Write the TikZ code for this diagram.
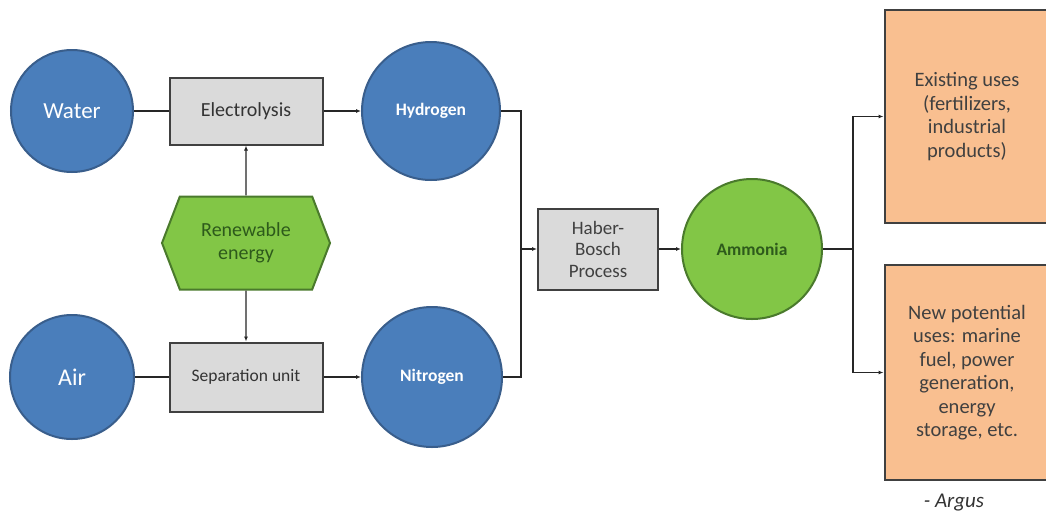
\documentclass[tikz,border=0pt]{standalone}
\usepackage{fontspec}
\setmainfont{Carlito}
\usetikzlibrary{positioning,shapes.symbols,arrows.meta}
\definecolor{blobblue}{HTML}{4A7EBB}
\definecolor{blobline}{HTML}{395E8C}
\definecolor{boxgray}{HTML}{DADADA}
\definecolor{darkline}{HTML}{404040}
\definecolor{leafgreen}{HTML}{82C646}
\definecolor{leafline}{HTML}{4A7A2C}
\definecolor{leaftext}{HTML}{2D5A1B}
\definecolor{peach}{HTML}{F9BF90}

\begin{document}
\begin{tikzpicture}[x=1pt,y=-1pt]
        \tikzstyle{blob} = [circle,draw=blobline,fill=blobblue,line width=2pt,text=white,inner sep=0pt]
        \tikzstyle{unit} = [rectangle,draw=darkline,fill=boxgray,line width=2pt,text=black!80,align=center]
        \tikzstyle{use} = [rectangle,draw=darkline,fill=peach,line width=2pt,text=black!75,align=center,
                           minimum width=165pt,font=\fontsize{20.5}{23.5}\selectfont]
        \tikzstyle{link} = [draw=black!85,line width=1.3pt]
        \tikzstyle{arr} = [link,-{Latex[length=5pt,width=4pt]}]
        \path[use as bounding box,fill=white] (0,0) rectangle (1046,517);
        % inputs
        \node [blob, minimum size=122pt, font=\fontsize{23}{26}\selectfont] (water) at (72,111) {Water};
        \node [blob, minimum size=124pt, font=\fontsize{24}{26}\selectfont] (air) at (72,377) {Air};
        \node [unit, minimum width=153pt, minimum height=67pt, font=\fontsize{20}{22}\selectfont] (elec) at (246,111) {Electrolysis};
        \node [unit, minimum width=153pt, minimum height=69pt, font=\fontsize{17.5}{20}\selectfont] (sep) at (246,377) {Separation unit};
        \node [shape=signal, signal to=east and west, signal pointer angle=138, draw=leafline, fill=leafgreen,
               line width=2pt, text=leaftext, align=center, minimum width=168pt, minimum height=93pt,
               font=\fontsize{20}{22.5}\selectfont] (renew) at (246,243) {Renewable\\energy};
        \node [blob, minimum size=138pt, font=\fontsize{17.5}{20}\selectfont\bfseries] (hyd) at (431,111) {Hydrogen};
        \node [blob, minimum size=140pt, font=\fontsize{17.5}{20}\selectfont\bfseries] (nit) at (432,377) {Nitrogen};
        % process and product
        \node [unit, minimum width=120pt, minimum height=81pt, text=black!75, font=\fontsize{19}{21.5}\selectfont] (haber) at (598,249) {Haber-\\Bosch\\Process};
        \node [circle, draw=leafline, fill=leafgreen, line width=2pt, minimum size=140pt, inner sep=0pt,
               text=leaftext, font=\fontsize{17.5}{20}\selectfont\bfseries] (amm) at (752,249) {Ammonia};
        \node [use, minimum height=213pt] (used) at (967,116.5) {Existing uses\\(fertilizers,\\industrial\\products)};
        \node [use, minimum height=215pt] (newuse) at (967,372.5) {New potential\\uses: marine\\fuel, power\\generation,\\energy\\storage, etc.};
        \node [text=black!80, font=\fontsize{21}{24}\selectfont\itshape] (argus) at (954,503) {- Argus};
        % connectors
        \coordinate (mix) at (521,249);
        \coordinate (split) at (853,249);
        \path[link] (water) -- (elec) (air) -- (sep);
        \path[arr] (elec) -- (hyd);
        \path[arr] (sep) -- (nit);
        \path[arr] (renew) -- (elec);
        \path[arr] (renew) -- (sep);
        \path[link] (hyd) -| (mix) (nit) -| (mix);
        \path[arr] (mix) -- (haber);
        \path[arr] (haber) -- (amm);
        \path[link] (amm) -- (split);
        \path[arr] (split) |- (used);
        \path[arr] (split) |- (newuse);
      \end{tikzpicture}
\end{document}
